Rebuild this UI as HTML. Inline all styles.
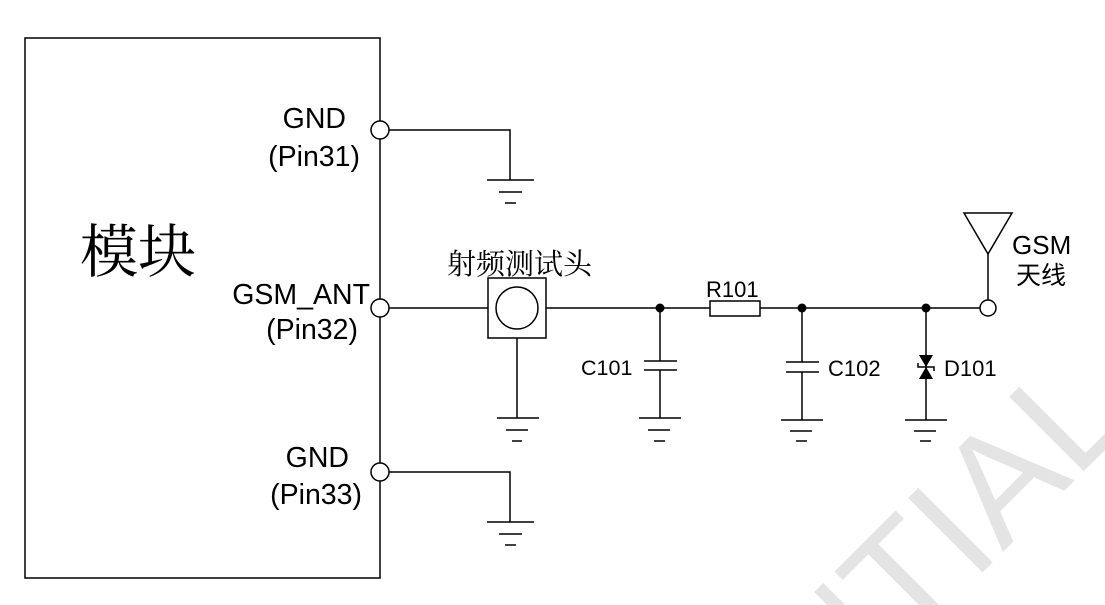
<!DOCTYPE html>
<html><head><meta charset="utf-8"><style>
html,body{margin:0;padding:0;background:#fff;overflow:hidden;}
svg{display:block;font-family:"Liberation Sans","Noto Sans CJK SC",sans-serif;}
</style></head><body>
<svg width="1105" height="605" viewBox="0 0 1105 605" xmlns="http://www.w3.org/2000/svg">
<text x="1135" y="420" transform="rotate(-45 1135 420)" font-size="153" fill="#e4e4e4" text-anchor="end" font-family="Liberation Sans, sans-serif">CONFIDENTIAL</text>
<g stroke="#000" stroke-width="1.5" fill="none">
<rect x="25" y="38" width="355" height="540"/>
<polyline points="389,130 510,130 510,180"/>
<line x1="487" y1="180" x2="534" y2="180"/>
<line x1="499" y1="192" x2="522" y2="192"/>
<line x1="505" y1="203" x2="516" y2="203"/>
<polyline points="389,472 510,472 510,522"/>
<line x1="487" y1="522" x2="534" y2="522"/>
<line x1="499" y1="534" x2="522" y2="534"/>
<line x1="505" y1="545" x2="516" y2="545"/>
<line x1="389" y1="308" x2="488" y2="308"/>
<rect x="488" y="278" width="58" height="60"/>
<circle cx="517" cy="308" r="21"/>
<line x1="546" y1="308" x2="710" y2="308"/>
<rect x="710" y="301" width="50" height="15"/>
<line x1="760" y1="308" x2="980" y2="308"/>
<line x1="517" y1="338" x2="517" y2="418"/>
<line x1="497" y1="418" x2="539" y2="418"/>
<line x1="506" y1="430" x2="528" y2="430"/>
<line x1="512" y1="441" x2="522" y2="441"/>
<line x1="660" y1="308" x2="660" y2="361"/>
<line x1="644" y1="361" x2="677" y2="361"/>
<line x1="644" y1="370" x2="677" y2="370"/>
<line x1="660" y1="370" x2="660" y2="418"/>
<line x1="639" y1="418" x2="681" y2="418"/>
<line x1="648" y1="430" x2="670" y2="430"/>
<line x1="654" y1="441" x2="665" y2="441"/>
<line x1="802" y1="308" x2="802" y2="362"/>
<line x1="786" y1="362" x2="819" y2="362"/>
<line x1="786" y1="372" x2="819" y2="372"/>
<line x1="802" y1="372" x2="802" y2="420"/>
<line x1="781" y1="420" x2="823" y2="420"/>
<line x1="790" y1="431" x2="812" y2="431"/>
<line x1="796" y1="441" x2="807" y2="441"/>
<line x1="926" y1="308" x2="926" y2="420"/>
<line x1="905" y1="420" x2="947" y2="420"/>
<line x1="914" y1="431" x2="936" y2="431"/>
<line x1="920" y1="441" x2="931" y2="441"/>
<polyline points="918,363 918,367 934,367 934,371"/>
<circle cx="988" cy="308" r="8"/>
<line x1="988" y1="300" x2="988" y2="254"/>
<polygon points="964,213 1012,213 988,254"/>
<circle cx="380" cy="130" r="9" fill="#fff"/>
<circle cx="380" cy="308" r="9" fill="#fff"/>
<circle cx="380" cy="472" r="9" fill="#fff"/>
</g>
<g fill="#000">
<polygon points="919,355 933,355 926,367"/>
<polygon points="919,379 933,379 926,367"/>
<circle cx="660" cy="308" r="4.5"/>
<circle cx="802" cy="308" r="4.5"/>
<circle cx="926" cy="308" r="4.5"/>
</g>
<g font-size="28.5" fill="#000" text-anchor="end">
<text x="346" y="128">GND</text>
<text x="360" y="166">(Pin31)</text>
<text x="370" y="304">GSM_ANT</text>
<text x="358" y="339">(Pin32)</text>
<text x="349" y="467">GND</text>
<text x="362" y="504">(Pin33)</text>
</g>
<text x="80" y="272" font-size="58" font-family="Noto Serif CJK SC, serif">模块</text>
<text x="447" y="274" font-size="29" font-family="Noto Serif CJK SC, serif">射频测试头</text>
<g font-size="22" fill="#000">
<text x="706" y="297">R101</text>
<text x="581" y="375" font-size="21.5">C101</text>
<text x="828" y="376">C102</text>
<text x="944" y="376">D101</text>
<text x="1012" y="254" font-size="26">GSM</text>
<text x="1016" y="284" font-size="25" font-family="Noto Sans CJK SC, sans-serif">天线</text>
</g>
</svg>
</body></html>
